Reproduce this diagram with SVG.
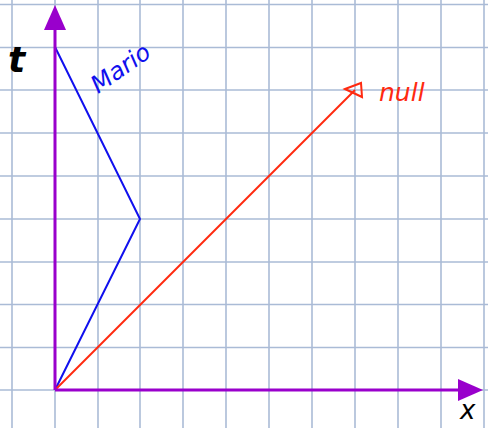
<svg xmlns="http://www.w3.org/2000/svg" width="488" height="428" viewBox="0 0 488 428">
<style>
.grid line{stroke:#aabbd6;stroke-width:1.6}
.axis{stroke:#9900cc;stroke-width:3;fill:none}
.head{fill:#9900cc}
.mario{stroke:#1010ee;stroke-width:2;fill:none;stroke-linejoin:miter}
.null{stroke:#ff2a10;stroke-width:2;fill:none}
.hand{font-family:"DejaVu Sans",sans-serif;font-style:italic}
</style>
<rect width="488" height="428" fill="#ffffff"/>
<g class="grid" id="grid">
<line x1="12" y1="0" x2="12" y2="428"/>
<line x1="55" y1="0" x2="55" y2="428"/>
<line x1="98" y1="0" x2="98" y2="428"/>
<line x1="140" y1="0" x2="140" y2="428"/>
<line x1="183" y1="0" x2="183" y2="428"/>
<line x1="226" y1="0" x2="226" y2="428"/>
<line x1="269" y1="0" x2="269" y2="428"/>
<line x1="312" y1="0" x2="312" y2="428"/>
<line x1="355" y1="0" x2="355" y2="428"/>
<line x1="398" y1="0" x2="398" y2="428"/>
<line x1="441" y1="0" x2="441" y2="428"/>
<line x1="484" y1="0" x2="484" y2="428"/>
<line x1="0" y1="4.5" x2="488" y2="4.5"/>
<line x1="0" y1="47.5" x2="488" y2="47.5"/>
<line x1="0" y1="90" x2="488" y2="90"/>
<line x1="0" y1="133" x2="488" y2="133"/>
<line x1="0" y1="176" x2="488" y2="176"/>
<line x1="0" y1="219" x2="488" y2="219"/>
<line x1="0" y1="262" x2="488" y2="262"/>
<line x1="0" y1="304.5" x2="488" y2="304.5"/>
<line x1="0" y1="347.5" x2="488" y2="347.5"/>
<line x1="0" y1="390" x2="488" y2="390"/>
</g>
<g id="connectors">
<polyline class="mario" points="55,47 140,219 55,390"/>
<line class="null" x1="55" y1="390" x2="355" y2="90"/>
<polygon class="null" points="345,89 361,83 362,97"/>
</g>
<g id="t-axis">
<line class="axis" x1="55" y1="390" x2="55" y2="28"/>
<polygon class="head" points="55,5 44,30 66,30"/>
<text class="hand" x="8" y="72" font-size="36" font-weight="bold" fill="#000">t</text>
</g>
<g id="x-axis">
<line class="axis" x1="55" y1="390" x2="460" y2="390"/>
<polygon class="head" points="483,390 458,379 458,401"/>
<text class="hand" x="460" y="419" font-size="26" fill="#000">x</text>
</g>
<g id="mario-label">
<text class="hand" transform="translate(98,94) rotate(-35)" font-size="24" fill="#1010ee">Mario</text>
</g>
<g id="null-label">
<text class="hand" x="379" y="101" font-size="25" fill="#ff2a10">null</text>
</g>
</svg>
